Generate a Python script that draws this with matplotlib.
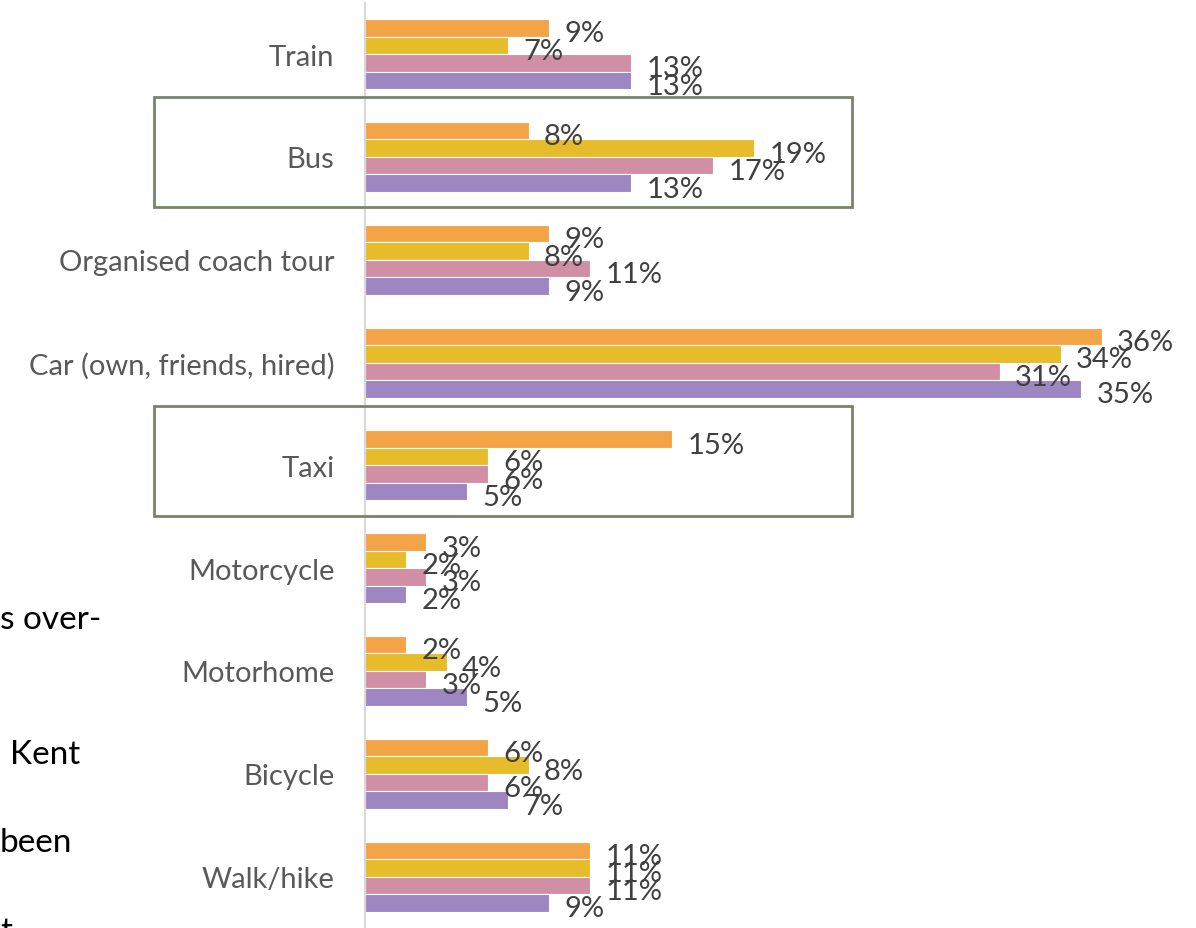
import numpy as np
import matplotlib.pyplot as plt
import matplotlib.transforms as mtransforms
from matplotlib.patches import Rectangle

plt.rcParams['font.family'] = ['Lato', 'DejaVu Sans']

categories = ['Train', 'Bus', 'Organised coach tour', 'Car (own, friends, hired)',
              'Taxi', 'Motorcycle', 'Motorhome', 'Bicycle', 'Walk/hike']
series_a = [9, 8, 9, 36, 15, 3, 2, 6, 11]
series_b = [7, 19, 8, 34, 6, 2, 4, 8, 11]
series_c = [13, 17, 11, 31, 6, 3, 3, 6, 11]
series_d = [13, 13, 9, 35, 5, 2, 5, 7, 9]
colors = ['#F3A447', '#E6BC2B', '#D08FA5', '#9D86C2']
boxed = ['Bus', 'Taxi']

fig = plt.figure(figsize=(11.96, 9.29), dpi=100)
ax = fig.add_axes([365 / 1196, 0.0, 1 - 365 / 1196, 0.996])

y = np.arange(len(categories))
h = 0.17
for i, (vals, c) in enumerate(zip([series_a, series_b, series_c, series_d], colors)):
    pos = y + (i - 1.5) * h
    ax.barh(pos, vals, height=h, color=c, edgecolor='white', linewidth=0.8)
    for p, v in zip(pos, vals):
        ax.annotate(f'{v}%', (v, p), xytext=(11, -4), textcoords='offset points',
                    va='center', ha='left', fontsize=21, color='#404040')

ax.set_ylim(len(categories) - 0.5, -0.5)
ax.set_xlim(0, 40.6)
ax.set_yticks(y)
ax.set_yticklabels(categories, fontsize=21, color='#595959')
ax.tick_params(axis='y', length=0, pad=22)
ax.set_xticks([])
for s in ['top', 'right', 'bottom']:
    ax.spines[s].set_visible(False)
ax.spines['left'].set_color('#D9D9D9')
ax.spines['left'].set_linewidth(1.5)

# outline boxes around highlighted modes (x in figure fraction, y in data units)
trans = mtransforms.blended_transform_factory(fig.transFigure, ax.transData)
for name in boxed:
    k = categories.index(name)
    rect = Rectangle((154 / 1196, k - 0.58), (852 - 154) / 1196, 1.07,
                     transform=trans, fill=False, edgecolor='#76856A', linewidth=2)
    fig.patches.append(rect)

# fragments of surrounding page text
for txt, xp, yp in [('s over-', 0, 620), ('Kent', 10, 755), ('been', 0, 843), ('t', 0, 932)]:
    fig.text(xp / 1196, 1 - yp / 929, txt, fontsize=24, color='black', va='center', ha='left')

fig.savefig('out.png', dpi=100)
